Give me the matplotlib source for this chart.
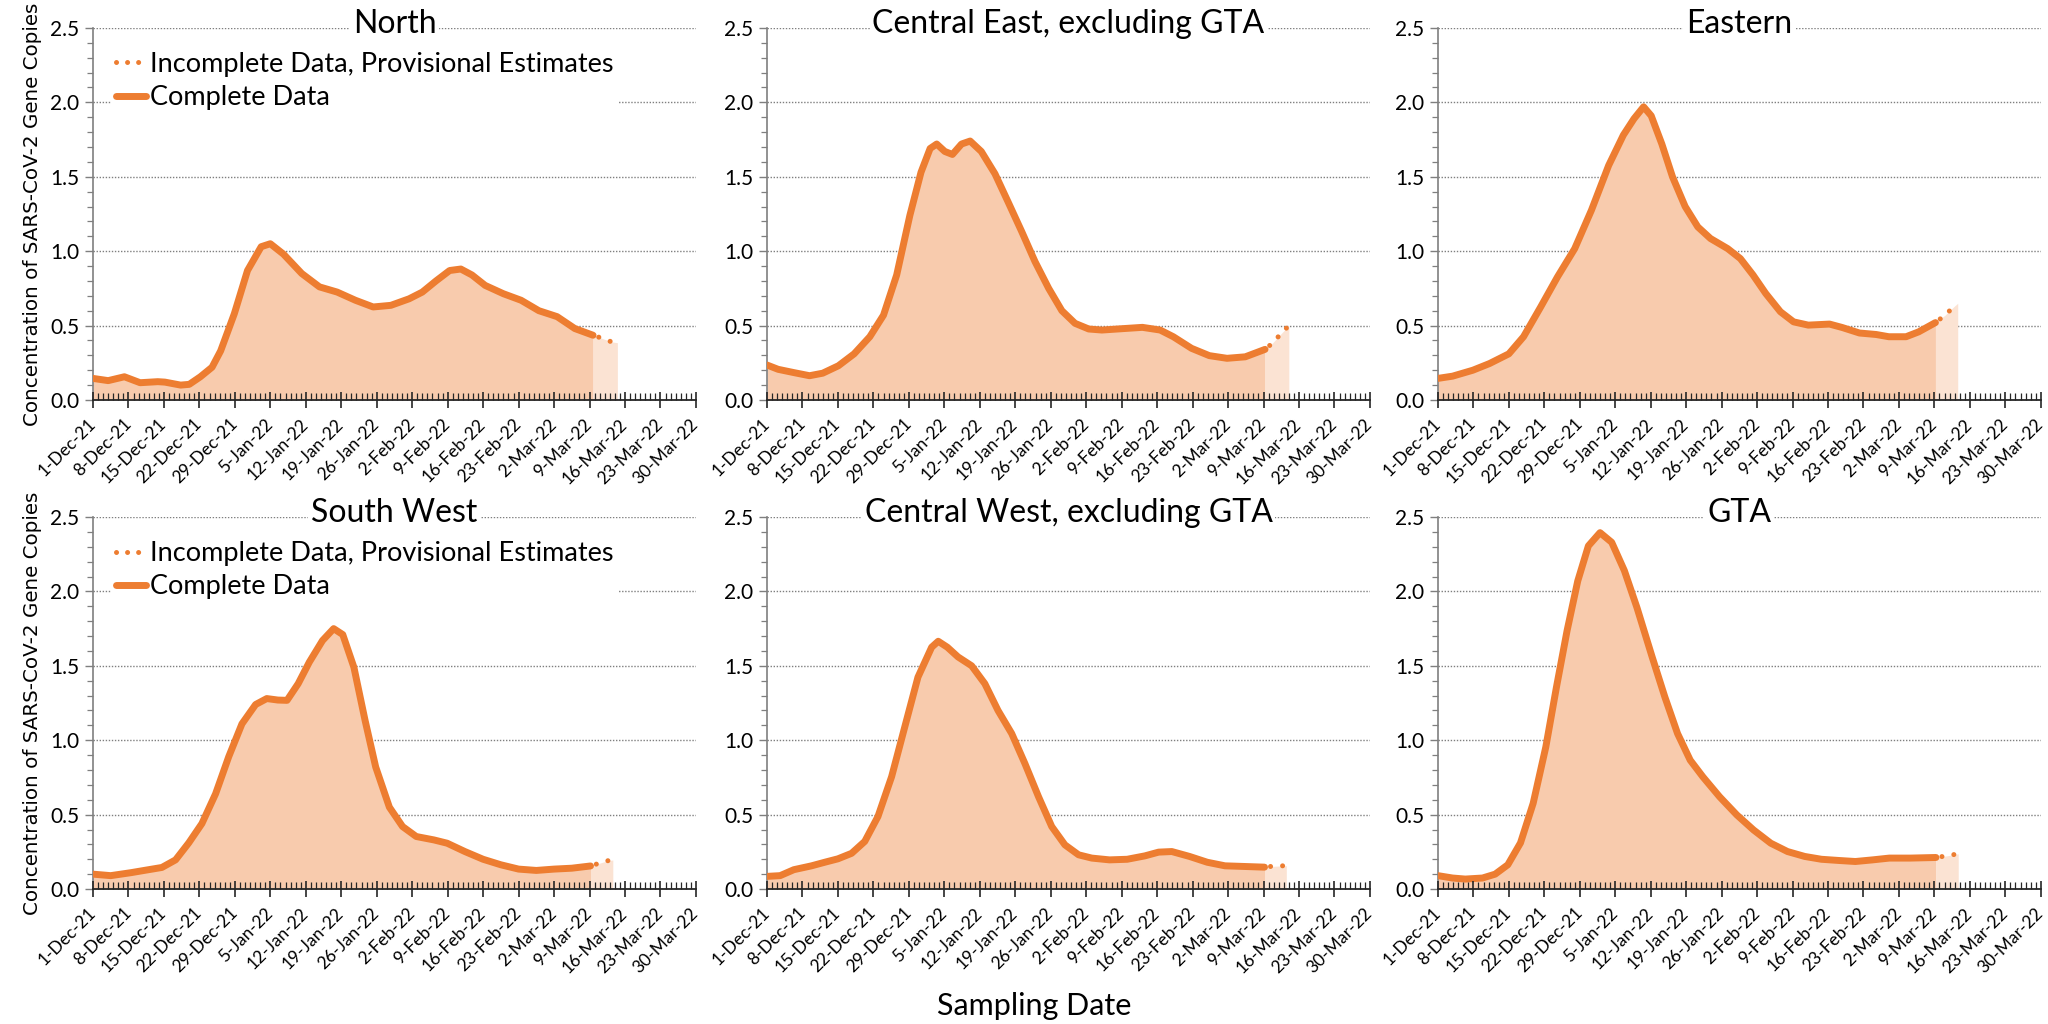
import matplotlib
matplotlib.use("Agg")
import matplotlib.pyplot as plt
from matplotlib.ticker import MultipleLocator, FixedLocator, FormatStrFormatter

plt.rcParams['font.family'] = ['Lato', 'DejaVu Sans']

# ---------------- data ----------------
tick_labels = ['1-Dec-21', '8-Dec-21', '15-Dec-21', '22-Dec-21', '29-Dec-21',
               '5-Jan-22', '12-Jan-22', '19-Jan-22', '26-Jan-22', '2-Feb-22',
               '9-Feb-22', '16-Feb-22', '23-Feb-22', '2-Mar-22', '9-Mar-22',
               '16-Mar-22', '23-Mar-22', '30-Mar-22']

titles = ['North', 'Central East, excluding GTA', 'Eastern',
          'South West', 'Central West, excluding GTA', 'GTA']

# days since 1-Dec-21
north_days = [0, 3, 6.2, 9.3, 12.8, 14.2, 17.3, 19, 21.2, 23.5, 25.2, 27.9, 30.5, 33.2, 35,
              37.6, 41.2, 44.7, 48.2, 51.8, 55.3, 58.8, 62.4, 65, 67.7, 70.4, 72.6, 74.8,
              77.4, 81, 84.5, 88, 91.6, 95.1, 98.7]
north_vals = [0.145, 0.13, 0.156, 0.116, 0.123, 0.12, 0.10, 0.105, 0.156, 0.22, 0.33, 0.58,
              0.87, 1.03, 1.05, 0.98, 0.85, 0.76, 0.725, 0.67, 0.625, 0.636, 0.68, 0.725,
              0.80, 0.87, 0.88, 0.84, 0.77, 0.714, 0.67, 0.60, 0.56, 0.48, 0.435]
north_inc_days = [98.7, 100, 102.4, 103.5]
north_inc_vals = [0.435, 0.42, 0.39, 0.385]

ce_days = [0, 2.2, 5.3, 8.4, 11, 14.1, 17.2, 20.3, 23, 25.6, 28.2, 30.4, 32.2, 33.5, 35.1,
           36.6, 38.4, 40.1, 42.3, 45, 47.6, 50.3, 52.9, 55.6, 58.2, 60.8, 63.5, 66.1,
           70.5, 74.1, 77.6, 80.2, 83.8, 87.3, 90.8, 94.4, 98.3]
ce_vals = [0.235, 0.206, 0.184, 0.163, 0.18, 0.23, 0.31, 0.425, 0.57, 0.84, 1.24, 1.53,
           1.69, 1.72, 1.67, 1.65, 1.72, 1.74, 1.67, 1.52, 1.33, 1.13, 0.93, 0.75, 0.60,
           0.515, 0.477, 0.47, 0.48, 0.488, 0.47, 0.425, 0.347, 0.298, 0.28, 0.29, 0.34]
ce_inc_days = [98.3, 99.7, 101.2, 103]
ce_inc_vals = [0.34, 0.38, 0.436, 0.50]

ea_days = [0, 2.9, 6.9, 10.2, 14, 16.9, 20.3, 23.6, 27, 30.3, 33.7, 36.6, 38.7, 40.6,
           42.1, 44.2, 46.3, 48.8, 51.3, 53.8, 57.2, 59.7, 62.2, 64.7, 67.6, 70.2, 73.1,
           77.3, 79.8, 83.2, 86.5, 89, 92.4, 94.9, 98.2]
ea_vals = [0.145, 0.16, 0.20, 0.245, 0.31, 0.425, 0.626, 0.827, 1.017, 1.275, 1.576,
           1.78, 1.89, 1.97, 1.91, 1.72, 1.50, 1.30, 1.163, 1.085, 1.017, 0.95, 0.84,
           0.716, 0.593, 0.525, 0.503, 0.51, 0.487, 0.45, 0.44, 0.425, 0.425, 0.458, 0.52]
ea_inc_days = [98.2, 100.1, 101.8, 102.6]
ea_inc_vals = [0.52, 0.57, 0.626, 0.65]

sw_days = [0, 3.5, 7.5, 10.1, 13.6, 16.3, 18.9, 21.5, 24.2, 26.8, 29.4, 32.1, 34.3, 36.5,
           38.3, 40.5, 42.7, 45.3, 47.5, 49.3, 51.5, 53.7, 55.8, 58.5, 61.1, 63.8, 67.3,
           69.9, 73.4, 77, 80.5, 84, 87.5, 91, 94.5, 98.2]
sw_vals = [0.10, 0.09, 0.11, 0.125, 0.145, 0.196, 0.31, 0.44, 0.64, 0.89, 1.11, 1.24,
           1.28, 1.27, 1.268, 1.38, 1.525, 1.67, 1.75, 1.71, 1.49, 1.134, 0.82, 0.55,
           0.42, 0.353, 0.33, 0.308, 0.252, 0.20, 0.163, 0.134, 0.125, 0.134, 0.14, 0.155]
sw_inc_days = [98.2, 99.6, 101.8, 102.6]
sw_inc_vals = [0.155, 0.17, 0.192, 0.195]

cw_days = [0, 2.6, 5.3, 8.8, 11.4, 14, 16.7, 19.3, 21.9, 24.6, 27.2, 29.8, 32.5, 33.8,
           35.6, 37.7, 40.4, 43, 45.6, 48.3, 50.9, 53.6, 56.2, 58.8, 61.5, 64.1, 67.6,
           71.1, 74.6, 77.3, 79.9, 83.4, 86.9, 90.4, 93.9, 98.2]
cw_vals = [0.085, 0.09, 0.13, 0.156, 0.18, 0.203, 0.24, 0.32, 0.487, 0.755, 1.09, 1.424,
           1.625, 1.665, 1.625, 1.56, 1.50, 1.38, 1.20, 1.045, 0.844, 0.62, 0.42, 0.297,
           0.23, 0.208, 0.196, 0.20, 0.223, 0.248, 0.252, 0.219, 0.18, 0.156, 0.152, 0.147]
cw_inc_days = [98.2, 99.5, 101.8, 102.5]
cw_inc_vals = [0.147, 0.152, 0.156, 0.157]

gta_days = [0, 2.9, 5.4, 8.8, 11.3, 13.8, 16.3, 18.8, 21.3, 23.4, 25.5, 27.6, 29.7, 32,
            34.3, 36.8, 39.3, 42.3, 44.8, 47.3, 49.8, 52.3, 55.6, 59, 62.3, 65.7, 69,
            72.4, 75.7, 79.1, 82.4, 85.8, 89.1, 93.3, 98.3]
gta_vals = [0.09, 0.074, 0.067, 0.074, 0.10, 0.163, 0.31, 0.576, 0.955, 1.357, 1.737,
            2.07, 2.306, 2.395, 2.33, 2.14, 1.89, 1.558, 1.29, 1.045, 0.866, 0.754, 0.62,
            0.498, 0.397, 0.308, 0.252, 0.219, 0.20, 0.192, 0.185, 0.196, 0.208, 0.208, 0.212]
gta_inc_days = [98.3, 100.8, 102.7]
gta_inc_vals = [0.212, 0.225, 0.237]

series = [
    (north_days, north_vals, north_inc_days, north_inc_vals),
    (ce_days, ce_vals, ce_inc_days, ce_inc_vals),
    (ea_days, ea_vals, ea_inc_days, ea_inc_vals),
    (sw_days, sw_vals, sw_inc_days, sw_inc_vals),
    (cw_days, cw_vals, cw_inc_days, cw_inc_vals),
    (gta_days, gta_vals, gta_inc_days, gta_inc_vals),
]

# ---------------- style ----------------
LINE = '#ED7D31'
FILL = '#F8CBAD'
FILL_INC = '#FBE3D3'
GRID = '#7f7f7f'

fig = plt.figure(figsize=(20.48, 10.24), dpi=100)

col_left = [0.0454, 0.3745, 0.7021]
width = 0.2944
row_bottom = [0.6094, 0.1318]
height = 0.3633

for i, (d, v, di, vi) in enumerate(series):
    r, c = divmod(i, 3)
    ax = fig.add_axes([col_left[c], row_bottom[r], width, height])
    ax.set_axisbelow(True)
    ax.xaxis.set_zorder(5)   # daily ticks drawn over the filled area

    ax.fill_between(d, v, 0, color=FILL, lw=0, zorder=1)
    ax.fill_between(di, vi, 0, color=FILL_INC, lw=0, zorder=1)
    ax.plot(di, vi, color=LINE, lw=3.6, linestyle=(1.2, (0.01, 2.4)),
            dash_capstyle='round', zorder=3,
            label='Incomplete Data, Provisional Estimates')
    ax.plot(d, v, color=LINE, lw=5, solid_capstyle='round', solid_joinstyle='round',
            zorder=4, label='Complete Data')

    ax.set_xlim(0, 119)
    ax.set_ylim(0, 2.5)

    ax.xaxis.set_major_locator(FixedLocator([7 * k for k in range(len(tick_labels))]))
    ax.set_xticklabels(tick_labels, rotation=45, ha='right', va='center',
                       rotation_mode='anchor', fontsize=12.5)
    ax.xaxis.set_minor_locator(MultipleLocator(1))
    ax.yaxis.set_major_locator(MultipleLocator(0.5))
    ax.yaxis.set_minor_locator(MultipleLocator(0.1))
    ax.yaxis.set_major_formatter(FormatStrFormatter('%.1f'))
    for lab in ax.get_yticklabels():
        lab.set_fontsize(15)

    ax.tick_params(axis='x', which='major', direction='inout', length=11, width=1.2,
                   color='#262626', pad=10)
    ax.tick_params(axis='x', which='minor', direction='in', length=5, width=0.9,
                   color='#262626')
    ax.tick_params(axis='y', which='major', direction='out', length=6, width=1,
                   color='#7f7f7f', pad=4)
    ax.tick_params(axis='y', which='minor', direction='out', length=4, width=0.9,
                   color='#7f7f7f')

    for s in ['top', 'right']:
        ax.spines[s].set_visible(False)
    ax.spines['left'].set_color('#7f7f7f')
    ax.spines['left'].set_linewidth(1.2)
    ax.spines['bottom'].set_color('#262626')
    ax.spines['bottom'].set_linewidth(1.3)
    ax.spines['bottom'].set_zorder(5)

    ax.grid(axis='y', which='major', color=GRID, lw=1.0, linestyle=(0, (1, 1.2)))

    ax.text(0.5, 0.987, titles[i], transform=ax.transAxes, ha='center', va='baseline',
            fontsize=23, zorder=10,
            bbox=dict(facecolor='white', edgecolor='none', pad=2))

    if c == 0:
        ax.set_ylabel('Concentration of SARS-CoV-2 Gene Copies', fontsize=14.3,
                      family='DejaVu Sans', labelpad=6)
        h, l = ax.get_legend_handles_labels()
        leg = ax.legend(h, l, loc='upper left', bbox_to_anchor=(0.03, 0.95),
                        fontsize=19.5, frameon=True, fancybox=False, framealpha=1,
                        edgecolor='none', facecolor='white', borderaxespad=0,
                        borderpad=0.2, handlelength=1.1, handletextpad=0.15,
                        labelspacing=0.3)
        leg.set_zorder(8)
        leg.legend_handles[0].set_linestyle((0, (0.01, 2.2)))

fig.text(0.505, 0.018, 'Sampling Date', ha='center', va='center', fontsize=22)

fig.savefig('out.png', dpi=100, facecolor='white')
